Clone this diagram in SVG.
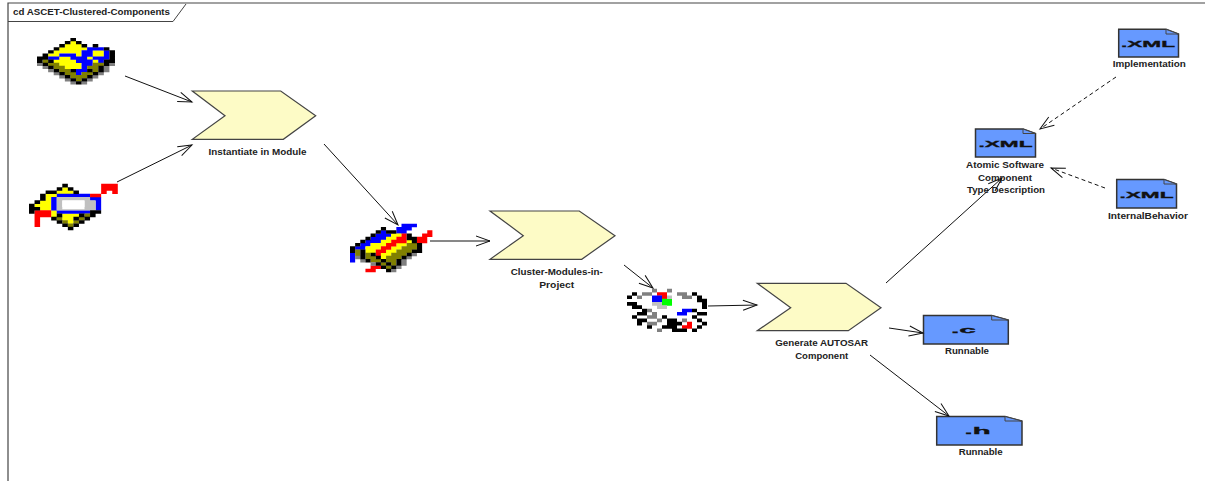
<svg xmlns="http://www.w3.org/2000/svg" width="1205" height="481" viewBox="0 0 1205 481">
<style>
.lbl{font-family:"Liberation Sans",Arial,sans-serif;font-weight:bold;font-size:9px;fill:#222;text-anchor:middle}
.ext{font-family:"Liberation Sans",Arial,sans-serif;font-weight:bold;font-size:9px;fill:#111;stroke:#111;stroke-width:.3;text-anchor:middle}
.act{fill:#fdfbc6;stroke:#444;stroke-width:1.2}
.doc{fill:#6699ff;stroke:#333;stroke-width:1.5}
.fold{fill:#6699ff;stroke:#444;stroke-width:1}
.px path{fill:none;stroke-width:1.08}
.K{stroke:#000}.Y{stroke:#ff0}.B{stroke:#00f}.O{stroke:#808000}.G{stroke:#808080}.R{stroke:#f00}.S{stroke:#c0c0c0}.W{stroke:#fff}.N{stroke:#0f0}
.c{fill:none;stroke:#111;stroke-width:1;marker-end:url(#open)}
.d{stroke-dasharray:4 3}
</style>
<defs>
<marker id="open" markerUnits="userSpaceOnUse" markerWidth="18" markerHeight="14" viewBox="-16 -7 18 14" refX="0" refY="0" orient="auto">
<path d="M-14-5L0 0L-14 5" fill="none" stroke="#111" stroke-width="1"/>
</marker>
</defs>
<g id="frame">
<path d="M8 481V3H1205" fill="none" stroke="#444" stroke-width="1.2"/>
<path d="M8 21.500H173L186 4" fill="none" stroke="#444" stroke-width="1"/>
<text x="13" y="15" style="font-family:'Liberation Sans',Arial,sans-serif;font-weight:bold;font-size:9px;fill:#222" textLength="157" lengthAdjust="spacingAndGlyphs">cd ASCET-Clustered-Components</text>
</g>
<g id="icon-module-1" class="px" transform="translate(37 38) scale(5.57 3.1)">
<path class="Y" d="M6 1.500h1M5 2.500h3M4 3.500h5M3 4.500h5M10 4.500h2M2 5.500h2M7 5.500h1M10 5.500h2M4 6.500h2M9 6.500h1M3 7.500h4M10 7.500h1M4 8.500h4M5 9.500h3"/>
<path class="B" d="M9 3.500h3M8 4.500h2M12 4.500h1M4 5.500h3M8 5.500h2M12 5.500h1M2 6.500h2M6 6.500h3M10 6.500h3M7 7.500h3M11 7.500h1M8 8.500h2M8 9.500h1M7 10.500h2M7 11.500h1"/>
<path class="O" d="M1 7.500h1M2 8.500h2M10 8.500h2M3 9.500h2M9 9.500h2M4 10.500h2M10 10.500h1M5 11.500h2M8 11.500h2M6 12.500h3M7 13.500h1"/>
<path class="G" d="M0 8.500h1M13 8.500h1M1 9.500h1M12 9.500h1M2 10.500h1M12 10.500h1M3 11.500h1M11 11.500h1M4 12.500h1M10 12.500h1M5 13.500h1M9 13.500h1M6 14.500h1M8 14.500h1"/>
<path class="K" d="M6 .5h1M5 1.500h1M7 1.500h1M4 2.500h1M8 2.500h1M10 2.500h1M3 3.500h1M12 3.500h1M2 4.500h1M13 4.500h1M1 5.500h1M13 5.500h1M0 6.500h2M13 6.500h1M0 7.500h1M2 7.500h1M12 7.500h2M1 8.500h1M12 8.500h1M2 9.500h1M11 9.500h1M3 10.500h1M6 10.500h1M9 10.500h1M11 10.500h1M4 11.500h1M10 11.500h1M5 12.500h1M9 12.500h1M6 13.500h1M8 13.500h1M7 14.500h1"/>
</g>
<g id="icon-module-2" class="px" transform="translate(29 184) scale(5.55 3.3)">
<path class="Y" d="M6 1.500h1M5 2.500h3M3 3.500h2M3 4.500h1M2 5.500h2M1 6.500h3M2 7.500h2M4 8.500h1M4 9.500h1M6 9.500h3M6 10.500h2M7 11.500h1"/>
<path class="B" d="M5 3.500h6M4 4.500h1M11 4.500h2M4 5.500h1M12 5.500h1M4 6.500h1M12 6.500h1M4 7.500h1M12 7.500h1M5 8.500h6"/>
<path class="S" d="M5 4.500h6M5 5.500h1M10 5.500h2M5 6.500h1M10 6.500h2M5 7.500h7"/>
<path class="W" d="M6 5.500h4M6 6.500h4M6 7.100h4"/>
<path class="O" d="M10 9.500h1M5 10.500h1M9 10.500h1M6 11.500h1M8 11.500h1M7 12.500h1"/>
<path class="R" d="M13 .5h3M13 1.500h3M13 2.500h1M15 2.500h1M11 3.500h2M1 8.500h3M1 9.500h3M1 10.500h1M1 11.500h1M1 12.500h1"/>
<path class="K" d="M6 .5h1M5 1.500h1M7 1.500h1M3 2.500h2M8 2.500h1M2 3.500h1M2 4.500h1M1 5.500h1M0 6.500h1M0 7.500h2M0 8.500h1M11 8.500h2M5 9.500h1M9 9.500h1M11 9.500h1M4 10.500h1M8 10.500h1M10 10.500h1M5 11.500h1M9 11.500h1M6 12.500h1M8 12.500h1M7 13.500h1"/>
</g>
<g id="icon-project-stack" class="px" transform="translate(350 224) scale(5.15 3.2)">
<path class="B" d="M10 .5h3M9 1.500h3M6 2.500h1M9 2.500h2M5 3.500h3M4 4.500h3M3 5.500h3M2 6.500h2M1 7.500h2M0 9.500h1M0 10.500h1M0 11.500h1"/>
<path class="Y" d="M8 3.500h2M7 4.500h2M6 5.500h2M11 5.500h1M4 6.500h3M9 6.500h2M3 7.500h3M8 7.500h2M3 8.500h2M7 8.500h2M6 9.500h2M6 10.500h1"/>
<path class="R" d="M15 2.500h1M10 3.500h1M14 3.500h2M9 4.500h2M13 4.500h2M8 5.500h3M13 5.500h2M7 6.500h2M6 7.500h2M5 8.500h2M5 9.500h1M4 13.500h2M3 14.500h2"/>
<path class="O" d="M11 6.500h2M1 8.500h1M10 7.500h3M9 8.500h3M1 9.500h1M3 9.500h1M8 9.500h3M3 10.500h2M7 10.500h3M4 11.500h2M7 11.500h2M6 12.500h1M8 12.500h1M7 13.500h1"/>
<path class="G" d="M13 8.500h1M12 9.500h1M1 10.500h1M11 10.500h1M2 11.500h1M10 11.500h1M4 12.500h1M10 12.500h1M9 13.500h1M8 14.500h1"/>
<path class="K" d="M6 1.500h1M5 2.500h1M7 2.500h2M4 3.500h1M11 3.500h1M3 4.500h1M11 4.500h2M2 5.500h1M12 5.500h1M1 6.500h1M13 6.500h1M0 7.500h1M13 7.500h1M0 8.500h1M2 8.500h1M12 8.500h2M2 9.500h1M4 9.500h1M11 9.500h1M2 10.500h1M5 10.500h1M10 10.500h1M3 11.500h1M6 11.500h1M9 11.500h1M5 12.500h1M7 12.500h1M9 12.500h1M6 13.500h1M8 13.500h1M7 14.500h1"/>
</g>
<g id="icon-project" class="px" transform="translate(627 289) scale(5 3.3)">
<path class="G" d="M5 .5h1M8 .5h1M3 1.500h2M10 1.500h2M2 2.500h1M11 2.500h2M4 6.500h1M5 7.500h1M4 8.500h2M6 9.500h1M11 9.500h1M4 10.500h2M6 12.500h1"/>
<path class="R" d="M6 1.500h2M7 2.500h1M12 10.500h1M11 11.500h2"/>
<path class="B" d="M5 2.500h2M5 3.500h2M11 6.500h2M10 7.500h2"/>
<path class="N" d="M7 3.500h2M7 4.500h2"/>
<path class="S" d="M8 2.500h1M5 4.500h2M6 5.500h2"/>
<path class="K" d="M1 1.500h1M13 1.500h1M0 2.500h1M14 2.500h1M14 3.500h2M0 4.500h2M15 4.500h1M1 5.500h2M15 5.500h1M3 6.500h1M13 6.500h1M2 7.500h2M14 7.500h2M1 8.500h1M7 8.500h1M13 8.500h1M2 9.500h2M8 9.500h2M14 9.500h1M2 10.500h1M8 10.500h3M15 10.500h1M4 11.500h1M7 11.500h3M14 11.500h1M9 12.500h3M13 12.500h1"/>
</g>
<g id="node-instantiate">
<polygon class="act" points="192.300,91 280.700,91 315.700,115.700 283.300,139.300 192.300,139.300 225,115.700"/>
<text class="lbl" x="257.500" y="155" textLength="98" lengthAdjust="spacingAndGlyphs">Instantiate in Module</text>
</g>
<g id="node-cluster">
<polygon class="act" points="490,211 579.300,211 615,235.700 581.700,259.300 490,259.300 523.300,235.700"/>
<text class="lbl" x="556.700" y="275" textLength="92" lengthAdjust="spacingAndGlyphs">Cluster-Modules-in-</text>
<text class="lbl" x="556.700" y="288" textLength="35" lengthAdjust="spacingAndGlyphs">Project</text>
</g>
<g id="node-generate">
<polygon class="act" points="757.300,283.300 846,283.300 881,307.700 848.300,330.700 757.300,330.700 790.700,307.700"/>
<text class="lbl" x="821.700" y="345.500" textLength="93" lengthAdjust="spacingAndGlyphs">Generate AUTOSAR</text>
<text class="lbl" x="821.700" y="359" textLength="53" lengthAdjust="spacingAndGlyphs">Component</text>
</g>
<g id="node-atomic">
<polygon class="doc" points="975.500,129 1023,129 1035.500,133.500 1035.500,157 975.500,157"/>
<path class="fold" d="M1023 129L1035.500 133.500H1023Z"/>
<text class="ext" x="1005.500" y="147" textLength="54" lengthAdjust="spacingAndGlyphs">.XML</text>
<text class="lbl" x="1005" y="168" textLength="78" lengthAdjust="spacingAndGlyphs">Atomic Software</text>
<text class="lbl" x="1005" y="181" textLength="54" lengthAdjust="spacingAndGlyphs">Component</text>
<text class="lbl" x="1006" y="193" textLength="78" lengthAdjust="spacingAndGlyphs">Type Description</text>
</g>
<g id="node-implementation">
<polygon class="doc" points="1118.700,29.300 1166,29.300 1178.500,34 1178.500,57 1118.700,57"/>
<path class="fold" d="M1166 29.300L1178.500 34H1166Z"/>
<text class="ext" x="1148" y="47" textLength="54" lengthAdjust="spacingAndGlyphs">.XML</text>
<text class="lbl" x="1149.300" y="67" textLength="73" lengthAdjust="spacingAndGlyphs">Implementation</text>
</g>
<g id="node-internal">
<polygon class="doc" points="1116.700,179.500 1164,179.500 1176.500,184 1176.500,208 1116.700,208"/>
<path class="fold" d="M1164 179.500L1176.500 184H1164Z"/>
<text class="ext" x="1146.500" y="197.500" textLength="54" lengthAdjust="spacingAndGlyphs">.XML</text>
<text class="lbl" x="1148" y="219" textLength="80" lengthAdjust="spacingAndGlyphs">InternalBehavior</text>
</g>
<g id="node-runnable-c">
<polygon class="doc" points="923.500,315.500 991.700,315.500 1008.300,320 1008.300,344 923.500,344"/>
<path class="fold" d="M991.700 315.500L1008.300 320H991.700Z"/>
<text class="ext" x="963.500" y="333" textLength="25" lengthAdjust="spacingAndGlyphs">.c</text>
<text class="lbl" x="967" y="354" textLength="44" lengthAdjust="spacingAndGlyphs">Runnable</text>
</g>
<g id="node-runnable-h">
<polygon class="doc" points="936.700,416.500 1005,416.500 1022,421 1022,445 936.700,445"/>
<path class="fold" d="M1005 416.500L1022 421H1005Z"/>
<text class="ext" x="977.500" y="434" textLength="26" lengthAdjust="spacingAndGlyphs">.h</text>
<text class="lbl" x="980.700" y="455" textLength="44" lengthAdjust="spacingAndGlyphs">Runnable</text>
</g>
<g id="connectors">
<path class="c" d="M125 76L192 102"/>
<path class="c" d="M117 182L192 145"/>
<path class="c" d="M324 144L398 225"/>
<path class="c" d="M430 241L490 241"/>
<path class="c" d="M624 265L653 288"/>
<path class="c" d="M708 306L757 305"/>
<path class="c" d="M886 283L1002 178"/>
<path class="c" d="M889 328L923 333"/>
<path class="c" d="M870 355L949 416"/>
<path class="c d" d="M1116 77L1040 129"/>
<path class="c d" d="M1105 188L1051 168"/>
</g>
</svg>
